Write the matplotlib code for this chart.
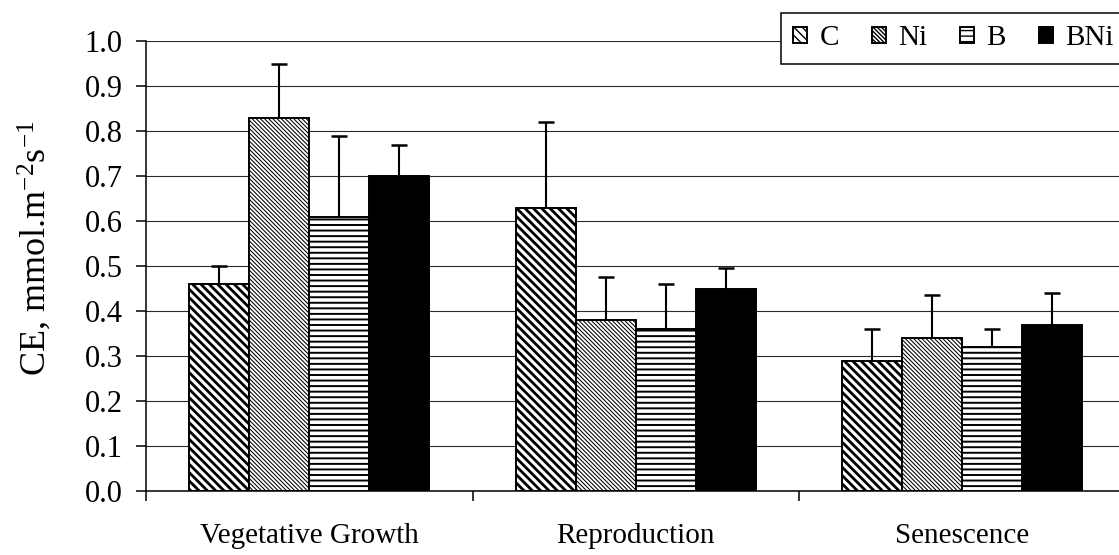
import numpy as np
import matplotlib
matplotlib.use("Agg")
import matplotlib.pyplot as plt
from matplotlib.ticker import FixedLocator, NullFormatter

plt.rcParams['font.family'] = ['Liberation Serif', 'DejaVu Serif']
plt.rcParams['mathtext.fontset'] = 'custom'
plt.rcParams['mathtext.rm'] = 'Liberation Serif'
plt.rcParams['mathtext.it'] = 'Liberation Serif:italic'
plt.rcParams['mathtext.default'] = 'regular'

categories = ["Vegetative Growth", "Reproduction", "Senescence"]
series = ["C", "Ni", "B", "BNi"]
vals_C = [0.46, 0.63, 0.29]
vals_Ni = [0.83, 0.38, 0.34]
vals_B = [0.61, 0.36, 0.32]
vals_BNi = [0.70, 0.45, 0.37]
err_C = [0.04, 0.19, 0.07]
err_Ni = [0.12, 0.095, 0.095]
err_B = [0.18, 0.10, 0.04]
err_BNi = [0.07, 0.045, 0.07]
yticks = [0.0, 0.1, 0.2, 0.3, 0.4, 0.5, 0.6, 0.7, 0.8, 0.9, 1.0]
ylabel = 'CE, mmol.m$^{-2}$s$^{-1}$'

values = [vals_C, vals_Ni, vals_B, vals_BNi]
errors = [err_C, err_Ni, err_B, err_BNi]
styles = [
    dict(facecolor='white', hatch='\\' * 4, hlw=2.0),
    dict(facecolor='white', hatch='\\' * 8, hlw=0.75),
    dict(facecolor='white', hatch='---', hlw=1.4),
    dict(facecolor='black', hatch=None, hlw=1.0),
]

W, H = 1119, 555
fig = plt.figure(figsize=(W / 100, H / 100), dpi=100)
left_px, right_px, top_px, bot_px = 146, 1119, 41, 491
ax = fig.add_axes([left_px / W, 1 - bot_px / H, (right_px - left_px) / W, (bot_px - top_px) / H])

unit = 326.5
xmax = (right_px - left_px) / unit
bw = 0.184
x = np.arange(len(categories)) + 0.5
offsets = (np.arange(4) - 1.5) * bw

handles = []
for i, (v, e, st) in enumerate(zip(values, errors, styles)):
    with plt.rc_context({'hatch.linewidth': st['hlw'], 'hatch.color': 'black'}):
        bars = ax.bar(x + offsets[i], v, width=bw, facecolor=st['facecolor'],
                      edgecolor='black', linewidth=1.4, hatch=st['hatch'],
                      label=series[i], zorder=3)
        for p in bars:
            try:
                p.set_hatch_linewidth(st['hlw'])
            except Exception:
                pass
    handles.append(bars)
    eb = ax.errorbar(x + offsets[i], v, yerr=[np.zeros(len(v)), e], fmt='none',
                     ecolor='black', elinewidth=1.5, capsize=6, capthick=1.8, zorder=4)
    caps = eb[1]
    if len(caps) >= 1:
        caps[0].set_visible(False)

ax.set_xlim(0, xmax)
ax.set_ylim(0, 1.0)
ax.set_yticks(yticks)
ax.set_yticklabels([f"{t:.1f}" for t in yticks], fontsize=22)
ax.yaxis.grid(True, color='#2a2a2a', linewidth=0.8, zorder=0)
ax.set_axisbelow(True)

ax.xaxis.set_major_locator(FixedLocator([0, 1, 2, 3]))
ax.xaxis.set_major_formatter(NullFormatter())
ax.xaxis.set_minor_locator(FixedLocator(list(x)))
ax.set_xticklabels(categories, minor=True, fontsize=21)
ax.tick_params(axis='x', which='minor', length=0, pad=23)
ax.tick_params(axis='x', which='major', length=7, width=1.1, direction='out')
ax.tick_params(axis='y', length=7, width=1.1, direction='out', pad=10)

for s in ['top', 'right']:
    ax.spines[s].set_visible(False)
ax.spines['left'].set_linewidth(1.1)
ax.spines['bottom'].set_linewidth(1.1)

ax.set_ylabel(ylabel, fontsize=26)
ax.yaxis.set_label_coords((54 - left_px) / (right_px - left_px), 0.54)

leg = fig.legend(handles=handles, labels=series, loc='upper left',
                 bbox_to_anchor=(781 / W, 1 - 13 / H), ncol=4, fontsize=21,
                 frameon=True, fancybox=False, shadow=False, framealpha=1,
                 edgecolor='black', handlelength=0.48, handleheight=0.48,
                 handletextpad=0.42, columnspacing=1.13, borderaxespad=0,
                 borderpad=0.42)
leg.get_frame().set_linewidth(1.1)

fig.savefig("out.png", dpi=100)
